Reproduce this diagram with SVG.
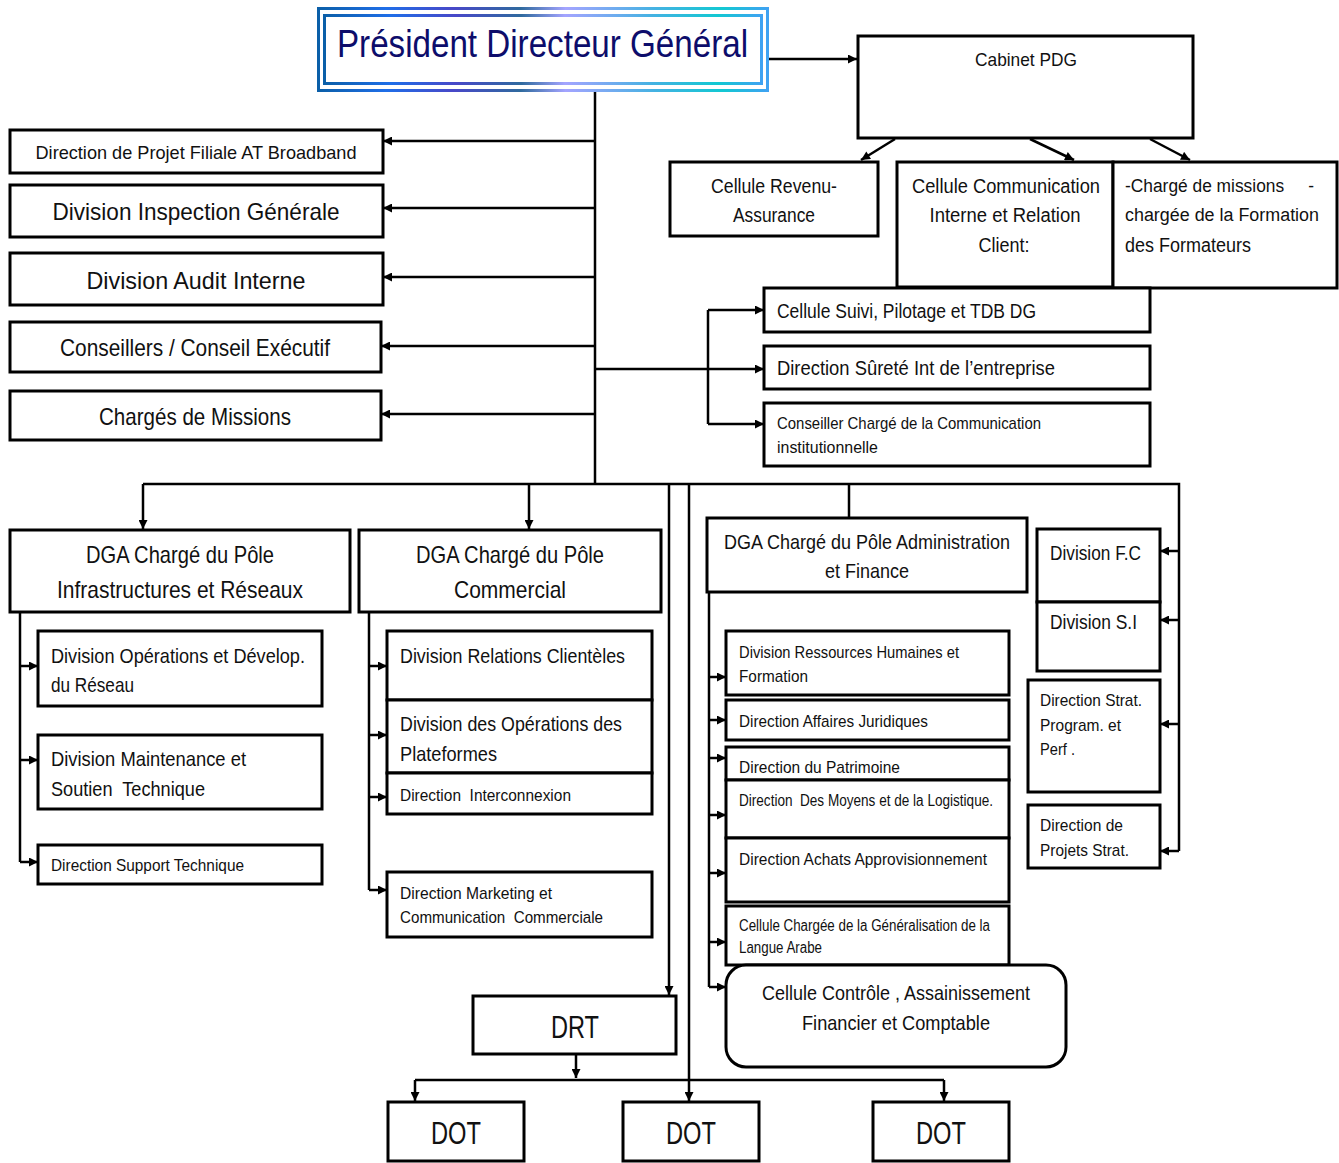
<svg xmlns="http://www.w3.org/2000/svg" width="1339" height="1163" viewBox="0 0 1339 1163">
  <defs>
    <marker id="arrow" viewBox="0 0 10 10" refX="10" refY="5" markerWidth="10" markerHeight="9" markerUnits="userSpaceOnUse" orient="auto">
      <path d="M0,0 L10,5 L0,10 z" fill="#000"/>
    </marker>
    <linearGradient id="frame" x1="0" y1="0" x2="1" y2="0">
      <stop offset="0" stop-color="#0b5fa8"/>
      <stop offset="0.15" stop-color="#1f6ee8"/>
      <stop offset="0.3" stop-color="#4848c8"/>
      <stop offset="0.45" stop-color="#2f6a9e"/>
      <stop offset="0.55" stop-color="#a4a4ff"/>
      <stop offset="0.75" stop-color="#44b2e2"/>
      <stop offset="0.9" stop-color="#12c8d2"/>
      <stop offset="1" stop-color="#3fa2f2"/>
    </linearGradient>
  </defs>
  <style>
    .box { fill: #fff; stroke: #000; stroke-width: 3; }
    .con { fill: none; stroke: #000; stroke-width: 2.5; }
    .arr { fill: none; stroke: #000; stroke-width: 2.5; marker-end: url(#arrow); }
    text { font-family: "Liberation Sans", Arial, sans-serif; fill: #111; dominant-baseline: central; }
    .c { text-anchor: middle; }
    .s16 { font-size: 16px; }
    .s17 { font-size: 17px; }
    .s18 { font-size: 18px; }
    .s19 { font-size: 19px; }
    .s20 { font-size: 20px; }
    .s21 { font-size: 21px; }
    .s24 { font-size: 24px; }
    .s30 { font-size: 31px; }
  </style>
  <rect width="1339" height="1163" fill="#fff"/>

  <!-- connectors -->
  <g id="connectors">
    <path class="arr" d="M768,59 H857"/>
    <path class="arr" d="M895,139 L861,160"/>
    <path class="arr" d="M1030,139 L1074,160"/>
    <path class="arr" d="M1150,139 L1190,160"/>
    <path class="con" d="M595,91 V484"/>
    <path class="arr" d="M595,141 H383"/>
    <path class="arr" d="M595,208 H383"/>
    <path class="arr" d="M595,277 H383"/>
    <path class="arr" d="M595,346 H381"/>
    <path class="arr" d="M595,414 H381"/>
    <path class="con" d="M595,369 H708 M708,310 V424"/>
    <path class="arr" d="M708,310 H764"/>
    <path class="arr" d="M708,369 H764"/>
    <path class="arr" d="M708,424 H764"/>
    <path class="con" d="M143,484 H1179 V851"/>
    <path class="arr" d="M143,484 V529"/>
    <path class="arr" d="M529,484 V529"/>
    <path class="con" d="M849,484 V518"/>
    <path class="arr" d="M1179,551 H1160"/>
    <path class="arr" d="M1179,620 H1160"/>
    <path class="arr" d="M1179,724 H1160"/>
    <path class="arr" d="M1179,851 H1160"/>
    <path class="arr" d="M669,484 V995"/>
    <path class="arr" d="M689,484 V1101"/>
    <path class="con" d="M20,612 V862"/>
    <path class="arr" d="M20,666 H38"/>
    <path class="arr" d="M20,760 H38"/>
    <path class="arr" d="M20,862 H38"/>
    <path class="con" d="M369,612 V890"/>
    <path class="arr" d="M369,666 H387"/>
    <path class="arr" d="M369,735 H387"/>
    <path class="arr" d="M369,797 H387"/>
    <path class="arr" d="M369,890 H387"/>
    <path class="con" d="M709,592 V987"/>
    <path class="arr" d="M709,677 H726"/>
    <path class="arr" d="M709,720 H726"/>
    <path class="arr" d="M709,758 H726"/>
    <path class="arr" d="M709,815 H726"/>
    <path class="arr" d="M709,873 H726"/>
    <path class="arr" d="M709,942 H726"/>
    <path class="arr" d="M709,987 H726"/>
    <path class="arr" d="M576,1054 V1078"/>
    <path class="con" d="M415,1080 H944"/>
    <path class="arr" d="M415,1080 V1101"/>
    <path class="arr" d="M944,1080 V1101"/>
  </g>

  <!-- top -->
  <g id="pdg">
    <rect x="318.5" y="8.5" width="449" height="82" fill="#fff" stroke="url(#frame)" stroke-width="3"/>
    <rect x="324.5" y="15.5" width="437" height="68" fill="none" stroke="url(#frame)" stroke-width="3"/>
    <text x="542.5" y="44" class="c" style="font-size:38px;fill:#0d0d6b" textLength="411" lengthAdjust="spacingAndGlyphs">Président Directeur Général</text>
  </g>
  <g id="cabinet">
    <rect class="box" x="858" y="36" width="335" height="102"/>
    <text class="c s19" x="1026" y="59" textLength="102" lengthAdjust="spacingAndGlyphs">Cabinet PDG</text>
  </g>
  <g id="revenu">
    <rect class="box" x="670" y="162" width="208" height="74"/>
    <text class="c s20" x="774" y="186" textLength="126" lengthAdjust="spacingAndGlyphs">Cellule Revenu-</text>
    <text class="c s20" x="774" y="215" textLength="82" lengthAdjust="spacingAndGlyphs">Assurance</text>
  </g>
  <g id="communication">
    <rect class="box" x="897" y="162" width="216" height="125"/>
    <text class="c s20" x="1006" y="186" textLength="188" lengthAdjust="spacingAndGlyphs">Cellule Communication</text>
    <text class="c s20" x="1005" y="215" textLength="151" lengthAdjust="spacingAndGlyphs">Interne et Relation</text>
    <text class="c s20" x="1004" y="245" textLength="51" lengthAdjust="spacingAndGlyphs">Client:</text>
  </g>
  <g id="charge-missions">
    <rect class="box" x="1113" y="162" width="224" height="126"/>
    <text class="s18" x="1125" y="186" textLength="189" lengthAdjust="spacingAndGlyphs" xml:space="preserve">-Chargé de missions     -</text>
    <text class="s18" x="1125" y="215" textLength="194" lengthAdjust="spacingAndGlyphs">chargée de la Formation</text>
    <text class="s20" x="1125" y="245" textLength="126" lengthAdjust="spacingAndGlyphs">des Formateurs</text>
  </g>
  <g id="suivi">
    <rect class="box" x="764" y="288" width="386" height="44"/>
    <text class="s20" x="777" y="311" textLength="259" lengthAdjust="spacingAndGlyphs">Cellule Suivi, Pilotage et TDB DG</text>
  </g>
  <g id="surete">
    <rect class="box" x="764" y="346" width="386" height="43"/>
    <text class="s20" x="777" y="368" textLength="278" lengthAdjust="spacingAndGlyphs">Direction Sûreté Int de l’entreprise</text>
  </g>
  <g id="conseiller">
    <rect class="box" x="764" y="403" width="386" height="63"/>
    <text class="s17" x="777" y="423" textLength="264" lengthAdjust="spacingAndGlyphs">Conseiller Chargé de la Communication</text>
    <text class="s17" x="777" y="447" textLength="101" lengthAdjust="spacingAndGlyphs">institutionnelle</text>
  </g>

  <!-- left column -->
  <g id="filiale">
    <rect class="box" x="10" y="130" width="373" height="43"/>
    <text class="c s19" x="196" y="152" textLength="321" lengthAdjust="spacingAndGlyphs">Direction de Projet Filiale AT Broadband</text>
  </g>
  <g id="inspection">
    <rect class="box" x="10" y="185" width="373" height="52"/>
    <text class="c s24" x="196" y="211" textLength="287" lengthAdjust="spacingAndGlyphs">Division Inspection Générale</text>
  </g>
  <g id="audit">
    <rect class="box" x="10" y="253" width="373" height="52"/>
    <text class="c s24" x="196" y="280" textLength="219" lengthAdjust="spacingAndGlyphs">Division Audit Interne</text>
  </g>
  <g id="conseillers">
    <rect class="box" x="10" y="322" width="371" height="50"/>
    <text class="c s24" x="195" y="347" textLength="270" lengthAdjust="spacingAndGlyphs">Conseillers / Conseil Exécutif</text>
  </g>
  <g id="charges">
    <rect class="box" x="10" y="391" width="371" height="49"/>
    <text class="c s24" x="195" y="416" textLength="192" lengthAdjust="spacingAndGlyphs">Chargés de Missions</text>
  </g>

  <!-- DGA Infrastructures -->
  <g id="dga-infra">
    <rect class="box" x="10" y="530" width="340" height="82"/>
    <text class="c s24" x="180" y="554" textLength="188" lengthAdjust="spacingAndGlyphs">DGA Chargé du Pôle</text>
    <text class="c s24" x="180" y="589" textLength="246" lengthAdjust="spacingAndGlyphs">Infrastructures et Réseaux</text>
  </g>
  <g id="operations-reseau">
    <rect class="box" x="38" y="631" width="284" height="75"/>
    <text class="s21" x="51" y="655" textLength="254" lengthAdjust="spacingAndGlyphs">Division Opérations et Dévelop.</text>
    <text class="s21" x="51" y="684" textLength="83" lengthAdjust="spacingAndGlyphs">du Réseau</text>
  </g>
  <g id="maintenance">
    <rect class="box" x="38" y="735" width="284" height="74"/>
    <text class="s21" x="51" y="758" textLength="195" lengthAdjust="spacingAndGlyphs">Division Maintenance et</text>
    <text class="s21" x="51" y="788" textLength="154" lengthAdjust="spacingAndGlyphs" xml:space="preserve">Soutien  Technique</text>
  </g>
  <g id="support">
    <rect class="box" x="38" y="845" width="284" height="39"/>
    <text class="s17" x="51" y="865" textLength="193" lengthAdjust="spacingAndGlyphs">Direction Support Technique</text>
  </g>

  <!-- DGA Commercial -->
  <g id="dga-commercial">
    <rect class="box" x="359" y="530" width="302" height="82"/>
    <text class="c s24" x="510" y="554" textLength="188" lengthAdjust="spacingAndGlyphs">DGA Chargé du Pôle</text>
    <text class="c s24" x="510" y="589" textLength="112" lengthAdjust="spacingAndGlyphs">Commercial</text>
  </g>
  <g id="relations">
    <rect class="box" x="387" y="631" width="265" height="69"/>
    <text class="s21" x="400" y="655" textLength="225" lengthAdjust="spacingAndGlyphs">Division Relations Clientèles</text>
  </g>
  <g id="plateformes">
    <rect class="box" x="387" y="700" width="265" height="73"/>
    <text class="s21" x="400" y="723" textLength="222" lengthAdjust="spacingAndGlyphs">Division des Opérations des</text>
    <text class="s21" x="400" y="753" textLength="97" lengthAdjust="spacingAndGlyphs">Plateformes</text>
  </g>
  <g id="interconnexion">
    <rect class="box" x="387" y="773" width="265" height="41"/>
    <text class="s17" x="400" y="795" textLength="171" lengthAdjust="spacingAndGlyphs" xml:space="preserve">Direction  Interconnexion</text>
  </g>
  <g id="marketing">
    <rect class="box" x="387" y="872" width="265" height="65"/>
    <text class="s17" x="400" y="893" textLength="152" lengthAdjust="spacingAndGlyphs">Direction Marketing et</text>
    <text class="s17" x="400" y="917" textLength="203" lengthAdjust="spacingAndGlyphs" xml:space="preserve">Communication  Commerciale</text>
  </g>

  <!-- DGA Administration et Finance -->
  <g id="dga-admin">
    <rect class="box" x="707" y="518" width="320" height="74"/>
    <text class="c s21" x="867" y="541" textLength="286" lengthAdjust="spacingAndGlyphs">DGA Chargé du Pôle Administration</text>
    <text class="c s21" x="867" y="570" textLength="84" lengthAdjust="spacingAndGlyphs">et Finance</text>
  </g>
  <g id="rh">
    <rect class="box" x="726" y="631" width="283" height="64"/>
    <text class="s17" x="739" y="652" textLength="220" lengthAdjust="spacingAndGlyphs">Division Ressources Humaines et</text>
    <text class="s17" x="739" y="676" textLength="69" lengthAdjust="spacingAndGlyphs">Formation</text>
  </g>
  <g id="juridiques">
    <rect class="box" x="726" y="700" width="283" height="40"/>
    <text class="s17" x="739" y="721" textLength="189" lengthAdjust="spacingAndGlyphs">Direction Affaires Juridiques</text>
  </g>
  <g id="patrimoine">
    <rect class="box" x="726" y="747" width="283" height="33"/>
    <text class="s17" x="739" y="767" textLength="161" lengthAdjust="spacingAndGlyphs">Direction du Patrimoine</text>
  </g>
  <g id="moyens">
    <rect class="box" x="726" y="780" width="283" height="58"/>
    <text class="s16" x="739" y="800" textLength="254" lengthAdjust="spacingAndGlyphs" xml:space="preserve">Direction  Des Moyens et de la Logistique.</text>
  </g>
  <g id="achats">
    <rect class="box" x="726" y="838" width="283" height="64"/>
    <text class="s17" x="739" y="859" textLength="248" lengthAdjust="spacingAndGlyphs">Direction Achats Approvisionnement</text>
  </g>
  <g id="langue-arabe">
    <rect class="box" x="726" y="906" width="283" height="59"/>
    <text class="s16" x="739" y="925" textLength="251" lengthAdjust="spacingAndGlyphs">Cellule Chargée de la Généralisation de la</text>
    <text class="s16" x="739" y="947" textLength="83" lengthAdjust="spacingAndGlyphs">Langue Arabe</text>
  </g>
  <g id="controle">
    <rect class="box" x="726" y="965" width="340" height="102" rx="20" ry="20"/>
    <text class="c s21" x="896" y="992" textLength="268" lengthAdjust="spacingAndGlyphs">Cellule Contrôle , Assainissement</text>
    <text class="c s21" x="896" y="1022" textLength="188" lengthAdjust="spacingAndGlyphs">Financier et Comptable</text>
  </g>

  <!-- right column -->
  <g id="division-fc">
    <rect class="box" x="1037" y="529" width="123" height="73"/>
    <text class="s21" x="1050" y="552" textLength="91" lengthAdjust="spacingAndGlyphs">Division F.C</text>
  </g>
  <g id="division-si">
    <rect class="box" x="1037" y="602" width="123" height="69"/>
    <text class="s21" x="1050" y="621" textLength="87" lengthAdjust="spacingAndGlyphs">Division S.I</text>
  </g>
  <g id="strat-program">
    <rect class="box" x="1028" y="680" width="132" height="112"/>
    <text class="s17" x="1040" y="700" textLength="102" lengthAdjust="spacingAndGlyphs">Direction Strat.</text>
    <text class="s17" x="1040" y="725" textLength="81" lengthAdjust="spacingAndGlyphs">Program. et</text>
    <text class="s17" x="1040" y="749" textLength="35" lengthAdjust="spacingAndGlyphs">Perf .</text>
  </g>
  <g id="projets-strat">
    <rect class="box" x="1028" y="805" width="132" height="63"/>
    <text class="s17" x="1040" y="825" textLength="83" lengthAdjust="spacingAndGlyphs">Direction de</text>
    <text class="s17" x="1040" y="850" textLength="89" lengthAdjust="spacingAndGlyphs">Projets Strat.</text>
  </g>

  <!-- bottom -->
  <g id="drt">
    <rect class="box" x="473" y="996" width="203" height="58"/>
    <text class="c s30" x="575" y="1027" textLength="48" lengthAdjust="spacingAndGlyphs">DRT</text>
  </g>
  <g id="dot-1">
    <rect class="box" x="388" y="1102" width="136" height="59"/>
    <text class="c s30" x="456" y="1133" textLength="50" lengthAdjust="spacingAndGlyphs">DOT</text>
  </g>
  <g id="dot-2">
    <rect class="box" x="623" y="1102" width="136" height="59"/>
    <text class="c s30" x="691" y="1133" textLength="50" lengthAdjust="spacingAndGlyphs">DOT</text>
  </g>
  <g id="dot-3">
    <rect class="box" x="873" y="1102" width="136" height="59"/>
    <text class="c s30" x="941" y="1133" textLength="50" lengthAdjust="spacingAndGlyphs">DOT</text>
  </g>
</svg>
